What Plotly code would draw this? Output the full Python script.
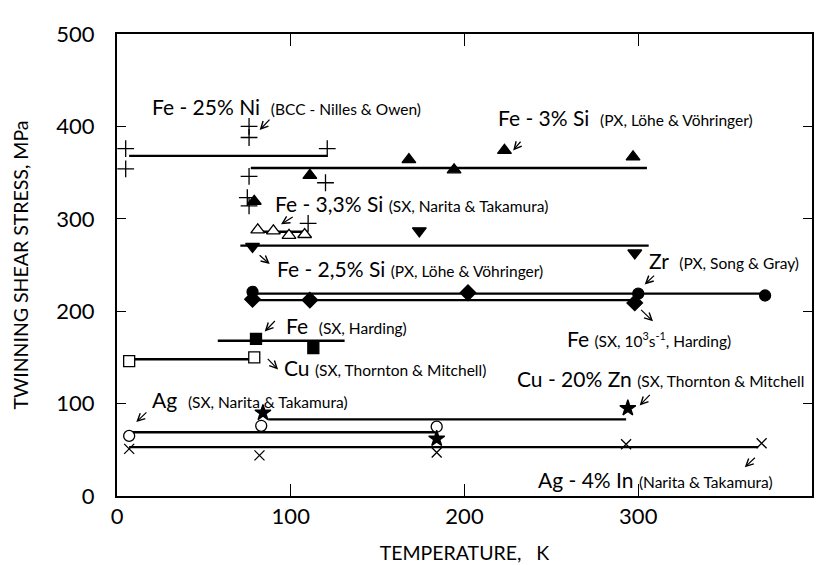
import plotly.graph_objects as go

# ---- data (temperature K, twinning shear stress MPa) ----
# Fe - 25% Ni (BCC - Nilles & Owen)
feni_t = [5, 5, 76, 76, 121, 76, 120, 75, 76, 110]
feni_s = [376, 354, 400, 388, 376, 346, 339, 323, 314, 295]
feni_fit_t = [7, 121]
feni_fit_s = [368, 368]

# Fe - 3% Si (PX, Lohe & Vohringer)
fesi3_t = [79, 111, 168, 194, 223, 297]
fesi3_s = [319, 347, 364, 353, 374, 367]
fesi3_fit_t = [77, 305]
fesi3_fit_s = [355, 355]

# Fe - 3,3% Si (SX, Narita & Takamura)
fesi33_t = [81, 90, 99, 108]
fesi33_s = [288, 287, 282, 283]
fesi33_fit_t = [80, 110]
fesi33_fit_s = [286, 286]

# Fe - 2,5% Si (PX, Lohe & Vohringer)
fesi25_t = [78, 174, 298]
fesi25_s = [270, 287, 263]
fesi25_fit_t = [71, 306]
fesi25_fit_s = [271, 271]

# Zr (PX, Song & Gray)
zr_t = [78, 300, 373]
zr_s = [221, 219, 217]
zr_fit_t = [76, 373]
zr_fit_s = [219, 219]

# Fe (SX, 10^3 s^-1, Harding)
feh3_t = [78, 111, 202, 298]
feh3_s = [213, 212, 220, 209]
feh3_fit_t = [76, 297]
feh3_fit_s = [212, 212]

# Fe (SX, Harding)
feh_t = [80, 113]
feh_s = [170, 160]
feh_fit_t = [58, 131]
feh_fit_s = [168, 168]

# Cu (SX, Thornton & Mitchell)
cu_t = [7, 79]
cu_s = [146, 150]
cu_fit_t = [7, 79]
cu_fit_s = [148, 148]

# Ag (SX, Narita & Takamura)
ag_t = [7, 83, 184]
ag_s = [65, 76, 75]
ag_fit_t = [7, 184]
ag_fit_s = [69, 69]

# Cu - 20% Zn (SX, Thornton & Mitchell)
cuzn_t = [84, 184, 294]
cuzn_s = [90, 62, 95]
cuzn_fit_t = [87, 293]
cuzn_fit_s = [83, 83]

# Ag - 4% In (Narita & Takamura)
agin_t = [7, 82, 184, 293, 371]
agin_s = [51, 44, 47, 56, 57]
agin_fit_t = [7, 369]
agin_fit_s = [53, 53]

series = [
    (feni_t, feni_s, feni_fit_t, feni_fit_s, 'cross-thin', 12, 'black'),
    (fesi3_t, fesi3_s, fesi3_fit_t, fesi3_fit_s, 'triangle-up', 12, 'black'),
    (fesi33_t, fesi33_s, fesi33_fit_t, fesi33_fit_s, 'triangle-up', 12, 'white'),
    (fesi25_t, fesi25_s, fesi25_fit_t, fesi25_fit_s, 'triangle-down', 12, 'black'),
    (zr_t, zr_s, zr_fit_t, zr_fit_s, 'circle', 11, 'black'),
    (feh3_t, feh3_s, feh3_fit_t, feh3_fit_s, 'diamond', 12, 'black'),
    (feh_t, feh_s, feh_fit_t, feh_fit_s, 'square', 11, 'black'),
    (cu_t, cu_s, cu_fit_t, cu_fit_s, 'square', 11, 'white'),
    (ag_t, ag_s, ag_fit_t, ag_fit_s, 'circle', 11, 'white'),
    (cuzn_t, cuzn_s, cuzn_fit_t, cuzn_fit_s, 'star', 12, 'black'),
    (agin_t, agin_s, agin_fit_t, agin_fit_s, 'x-thin', 10, 'black'),
]

FONT = 'Lato'
SMALL = "<span style='font-size:15.5px'>"

# label text, anchor (x, y) in data coords
labels = [
    ("Fe - 25% Ni&nbsp; " + SMALL + "(BCC - Nilles &amp; Owen)</span>", 19, 422),
    ("Fe - 3% Si&nbsp; " + SMALL + "(PX, Löhe &amp; Vöhringer)</span>", 218, 410),
    ("Fe - 3,3% Si " + SMALL + "(SX, Narita &amp; Takamura)</span>", 90, 317),
    ("Fe - 2,5% Si " + SMALL + "(PX, Löhe &amp; Vöhringer)</span>", 91, 246),
    ("Zr&nbsp; " + SMALL + "(PX, Song &amp; Gray)</span>", 305, 255),
    ("Fe " + SMALL + "(SX, 10<sup>3</sup>s<sup>-1</sup>, Harding)</span>", 258, 171),
    ("Fe&nbsp; " + SMALL + "(SX, Harding)</span>", 96, 184),
    ("Cu " + SMALL + "(SX, Thornton &amp; Mitchell)</span>", 95, 139),
    ("Ag&nbsp; " + SMALL + "(SX, Narita &amp; Takamura)</span>", 19, 104),
    ("Cu - 20% Zn " + SMALL + "(SX, Thornton &amp; Mitchell</span>", 229, 127),
    ("Ag - 4% In " + SMALL + "(Narita &amp; Takamura)</span>", 241, 18),
]

# arrows: tail (x, y) -> head (x, y)
arrows = [
    (88.6, 409, 82.1, 396),
    (233, 385, 228, 374),
    (102, 303, 94.4, 294),
    (81.2, 262, 87.9, 251),
    (310, 240, 303.7, 229),
    (300.8, 203, 308.5, 189),
    (91.7, 191, 85, 178),
    (85.9, 150, 92.7, 137),
    (17.8, 92, 11.1, 80),
    (307.5, 111, 300.8, 98),
    (368, 43, 361.3, 31),
]

fig = go.Figure()

for t, s, ft, fs, sym, size, fill in series:
    fig.add_trace(go.Scatter(x=ft, y=fs, mode='lines',
                             line=dict(color='black', width=2.3),
                             showlegend=False, hoverinfo='skip'))

for t, s, ft, fs, sym, size, fill in series:
    fig.add_trace(go.Scatter(x=t, y=s, mode='markers', showlegend=False,
                             marker=dict(symbol=sym, size=size, color=fill,
                                         line=dict(color='black', width=1.3))))

for text, x, y in labels:
    fig.add_annotation(x=x, y=y, text=text, showarrow=False,
                       xanchor='left', yanchor='middle',
                       font=dict(family=FONT, size=21, color='black'))

for ax, ay, x, y in arrows:
    fig.add_annotation(x=x, y=y, ax=ax, ay=ay, axref='x', ayref='y',
                       text='', showarrow=True, arrowhead=5, arrowsize=1.2,
                       arrowwidth=1.2, arrowcolor='black', standoff=0)

axis_style = dict(showline=True, linecolor='black', linewidth=2, mirror='ticks',
                  ticks='inside', tickcolor='black', tickwidth=1.3,
                  showgrid=False, zeroline=False,
                  tickfont=dict(family=FONT, size=22, color='black'))

fig.update_xaxes(range=[0, 400], tickvals=[0, 100, 200, 300, 400], ticklen=12,
                 title=dict(text='TEMPERATURE,&nbsp;&nbsp; K', standoff=18,
                            font=dict(family=FONT, size=19.5, color='black')),
                 **axis_style)
fig.update_yaxes(range=[0, 500], tickvals=[0, 100, 200, 300, 400, 500], ticklen=9,
                 ticklabelstandoff=16,
                 title=dict(text='TWINNING SHEAR STRESS, MPa', standoff=22,
                            font=dict(family=FONT, size=19.5, color='black')),
                 **axis_style)

fig.update_layout(width=823, height=565, plot_bgcolor='white', paper_bgcolor='white',
                  margin=dict(l=109, r=19, t=24, b=73),
                  font=dict(family=FONT, color='black'))

fig.write_html("out.html")
